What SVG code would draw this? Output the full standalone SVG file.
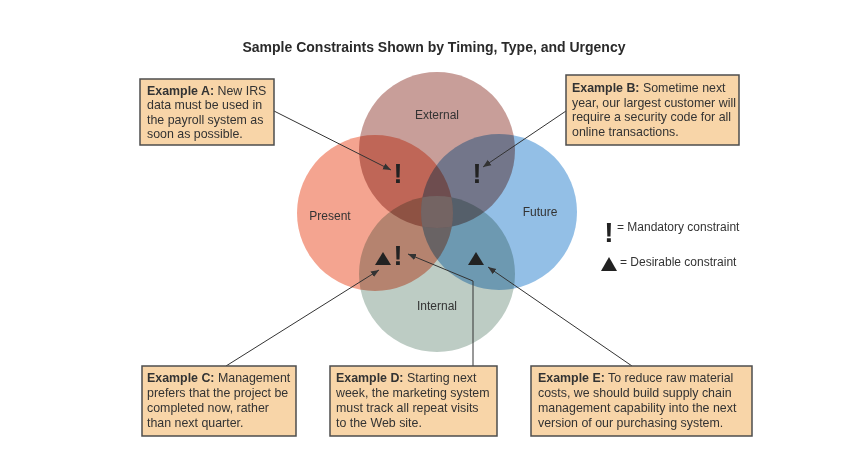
<svg xmlns="http://www.w3.org/2000/svg" width="850" height="462" viewBox="0 0 850 462">
<defs>
<style>
text{font-family:"Liberation Sans",Arial,sans-serif;fill:#333}
.title{font-size:14px;font-weight:bold;fill:#2a2a2a}
.lbl{font-size:12px}
.box rect{fill:#f8d5a8;stroke:#4d4d4d;stroke-width:1.5}
.box text{font-size:12.4px}
.b{font-weight:bold}
.circ{mix-blend-mode:multiply}
.sym{font-size:27px;font-weight:bold;fill:#222}
.con{fill:none;stroke:#333;stroke-width:1}
.tri{fill:#222}
</style>
<clipPath id="cP"><circle cx="375" cy="213" r="78"/></clipPath>
<clipPath id="cE"><circle cx="437" cy="150" r="78"/></clipPath>
<clipPath id="cF"><circle cx="499" cy="212" r="78"/></clipPath>
<clipPath id="cI"><circle cx="437" cy="274" r="78"/></clipPath>
<marker id="ah" viewBox="0 0 10 10" refX="10" refY="5" markerWidth="8" markerHeight="8" orient="auto" markerUnits="userSpaceOnUse">
<path d="M0,1 L10,5 L0,9 z" fill="#333"/>
</marker>
</defs>
<rect width="850" height="462" fill="#fff"/>
<text class="title" x="434" y="52" text-anchor="middle">Sample Constraints Shown by Timing, Type, and Urgency</text>
<g style="isolation:isolate">
<g id="present"><circle class="circ" cx="375" cy="213" r="78" fill="#f4a490"/></g>
<g id="external"><circle class="circ" cx="437" cy="150" r="78" fill="#c89e99"/></g>
<g id="future"><circle class="circ" cx="499" cy="212" r="78" fill="#93bfe6"/></g>
<g id="internal"><circle class="circ" cx="437" cy="274" r="78" fill="#bdccc4"/></g>
</g>
<g clip-path="url(#cP)"><g clip-path="url(#cE)"><g clip-path="url(#cF)">
<rect x="300" y="100" width="260" height="240" fill="#fff" opacity="0.2" clip-path="url(#cI)"/>
</g></g></g>
<g id="circle-labels">
<text class="lbl" x="437" y="119" text-anchor="middle">External</text>
<text class="lbl" x="330" y="220" text-anchor="middle">Present</text>
<text class="lbl" x="540" y="216" text-anchor="middle">Future</text>
<text class="lbl" x="437" y="310" text-anchor="middle">Internal</text>
</g>
<g id="symbols">
<text class="sym" x="398" y="183" text-anchor="middle">!</text>
<text class="sym" x="477" y="183" text-anchor="middle">!</text>
<polygon class="tri" points="383,252 375,265 391,265"/>
<text class="sym" x="398" y="265" text-anchor="middle">!</text>
<polygon class="tri" points="476,252 468,265 484,265"/>
</g>
<g id="connectors">
<line class="con" x1="274" y1="111" x2="391" y2="170" marker-end="url(#ah)"/>
<line class="con" x1="566" y1="111" x2="483" y2="167" marker-end="url(#ah)"/>
<line class="con" x1="226" y1="366" x2="379" y2="270" marker-end="url(#ah)"/>
<polyline class="con" points="473,366 473,281 408,254" marker-end="url(#ah)"/>
<line class="con" x1="632" y1="366" x2="488" y2="267" marker-end="url(#ah)"/>
</g>
<g id="box-a" class="box">
<rect x="140" y="79" width="134" height="66"/>
<text x="147" y="95"><tspan class="b">Example A:</tspan> New IRS</text>
<text x="147" y="109.3">data must be used in</text>
<text x="147" y="123.6">the payroll system as</text>
<text x="147" y="137.9">soon as possible.</text>
</g>
<g id="box-b" class="box">
<rect x="566" y="75" width="173" height="70"/>
<text x="572" y="92"><tspan class="b">Example B:</tspan> Sometime next</text>
<text x="572" y="106.5">year, our largest customer will</text>
<text x="572" y="121">require a security code for all</text>
<text x="572" y="135.5">online transactions.</text>
</g>
<g id="box-c" class="box">
<rect x="142" y="366" width="154" height="70"/>
<text x="147" y="382"><tspan class="b">Example C:</tspan> Management</text>
<text x="147" y="397">prefers that the project be</text>
<text x="147" y="412">completed now, rather</text>
<text x="147" y="427">than next quarter.</text>
</g>
<g id="box-d" class="box">
<rect x="330" y="366" width="167" height="70"/>
<text x="336" y="382"><tspan class="b">Example D:</tspan> Starting next</text>
<text x="336" y="397">week, the marketing system</text>
<text x="336" y="412">must track all repeat visits</text>
<text x="336" y="427">to the Web site.</text>
</g>
<g id="box-e" class="box">
<rect x="531" y="366" width="221" height="70"/>
<text x="538" y="382"><tspan class="b">Example E:</tspan> To reduce raw material</text>
<text x="538" y="397">costs, we should build supply chain</text>
<text x="538" y="412">management capability into the next</text>
<text x="538" y="427">version of our purchasing system.</text>
</g>
<g id="legend">
<text class="sym" x="609" y="242" text-anchor="middle" style="font-size:28px">!</text>
<text class="lbl" x="617" y="231">= Mandatory constraint</text>
<polygon class="tri" points="609,257 601,271 617,271"/>
<text class="lbl" x="620" y="266">= Desirable constraint</text>
</g>
</svg>
